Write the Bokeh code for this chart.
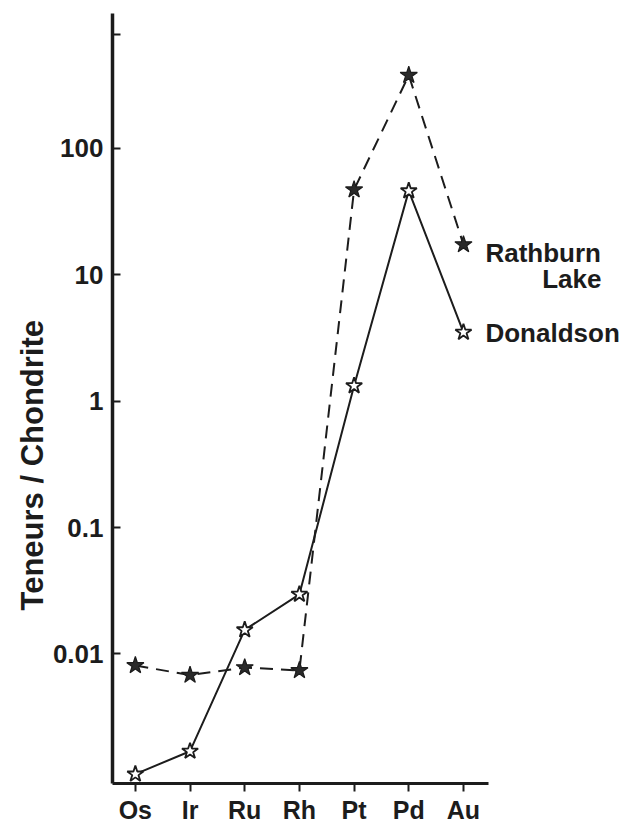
from bokeh.plotting import figure
from bokeh.models import Range1d, FixedTicker, Label, ColumnDataSource, Title
from bokeh.embed import file_html
from bokeh.resources import INLINE

# ---- data ----
elements = ["Os", "Ir", "Ru", "Rh", "Pt", "Pd", "Au"]
rathburn_lake = [0.0081, 0.0068, 0.0078, 0.0074, 47.0, 378.0, 17.3]
donaldson = [0.00112, 0.0017, 0.0155, 0.0296, 1.32, 46.0, 3.5]
y_tick_values = [0.01, 0.1, 1, 10, 100, 800]
y_tick_labels = ["0.01", "0.1", "1", "10", "100", ""]

x_idx = list(range(len(elements)))
INK = "#1c1c1c"
FONT = "Liberation Sans"

X0, X1, XEND = -0.418, 6.45, 9.0

p = figure(width=627, height=826,
           x_range=Range1d(X0, XEND),
           y_range=Range1d(0.000944, 1164),
           y_axis_type="log",
           output_backend="svg", toolbar_location=None,
           min_border_left=112, min_border_right=0,
           min_border_top=13, min_border_bottom=40)
p.outline_line_color = None
p.xgrid.visible = False
p.ygrid.visible = False
p.background_fill_color = "white"

# x axis
p.xaxis.bounds = (X0, X1)
p.xaxis.ticker = FixedTicker(ticks=x_idx)
p.xaxis.major_label_overrides = {i: e for i, e in zip(x_idx, elements)}
p.xaxis.axis_line_width = 3
p.xaxis.axis_line_color = INK
p.xaxis.major_tick_line_width = 2
p.xaxis.major_tick_line_color = INK
p.xaxis.major_tick_out = 8
p.xaxis.major_tick_in = 0
p.xaxis.minor_tick_line_color = None
p.xaxis.major_label_standoff = 4
p.xaxis.major_label_text_font = FONT
p.xaxis.major_label_text_font_style = "bold"
p.xaxis.major_label_text_font_size = "25px"
p.xaxis.major_label_text_color = INK

# y axis
p.yaxis.ticker = FixedTicker(ticks=y_tick_values)
p.yaxis.major_label_overrides = {v: s for v, s in zip(y_tick_values, y_tick_labels)}
p.yaxis.axis_line_width = 3.5
p.yaxis.axis_line_color = INK
p.yaxis.major_tick_line_width = 2
p.yaxis.major_tick_line_color = INK
p.yaxis.major_tick_in = 8
p.yaxis.major_tick_out = 0
p.yaxis.minor_tick_line_color = None
p.yaxis.major_label_standoff = 9
p.yaxis.major_label_text_font = FONT
p.yaxis.major_label_text_font_style = "bold"
p.yaxis.major_label_text_font_size = "26px"
p.yaxis.major_label_text_color = INK

# y axis title (vertical, placed along the left side)
p.add_layout(Title(text="Teneurs / Chondrite", align="left", offset=173,
                   text_font=FONT, text_font_style="bold", text_font_size="31px",
                   text_color=INK, standoff=0), "left")

src = ColumnDataSource(dict(x=x_idx, r=rathburn_lake, d=donaldson))

# Rathburn Lake: dashed line, filled stars
p.line("x", "r", source=src, line_color=INK, line_width=2, line_dash="13 8")
p.scatter("x", "r", source=src, marker="star", size=18,
          fill_color="#2a2a2a", line_color=INK, line_width=1.2)

# Donaldson: solid line, open stars
p.line("x", "d", source=src, line_color=INK, line_width=2)
p.scatter("x", "d", source=src, marker="star", size=17,
          fill_color="white", line_color=INK, line_width=1.8)

lab_kw = dict(text_font=FONT, text_font_style="bold", text_font_size="26px",
              text_color=INK, text_baseline="middle")
last = len(elements) - 1
p.add_layout(Label(x=last, y=rathburn_lake[last], text="Rathburn",
                   x_offset=22, y_offset=-8, **lab_kw))
p.add_layout(Label(x=last, y=rathburn_lake[last], text="Lake",
                   x_offset=138, y_offset=-34, text_align="right", **lab_kw))
p.add_layout(Label(x=last, y=donaldson[last], text="Donaldson",
                   x_offset=22, y_offset=-1, **lab_kw))

open("out.html", "w").write(file_html(p, INLINE))
